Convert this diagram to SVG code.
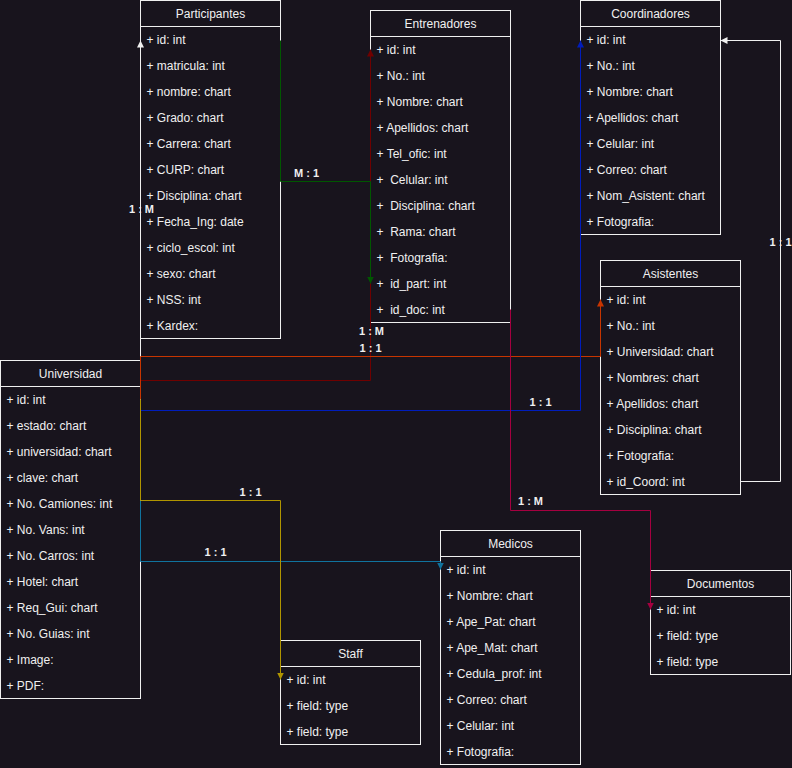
<svg xmlns="http://www.w3.org/2000/svg" width="792" height="768" viewBox="0 0 792 768">
<style>
.bg{fill:#18141d}
.box{fill:#18141d;stroke:#f0f0f0;stroke-width:1}
.sep{stroke:#f0f0f0;stroke-width:1}
.title{font-family:"Liberation Sans",Arial,sans-serif;font-size:12px;fill:#f0f0f0;text-anchor:middle}
.row{font-family:"Liberation Sans",Arial,sans-serif;font-size:12px;fill:#f0f0f0;white-space:pre}
.lbl{font-family:"Liberation Sans",Arial,sans-serif;font-size:11px;font-weight:bold;fill:#f0f0f0;text-anchor:middle}
.edge{fill:none;stroke-width:1}
</style>
<defs>
<marker id="aW" markerWidth="7" markerHeight="7" refX="7" refY="3.5" orient="auto" markerUnits="userSpaceOnUse"><path d="M0,0 L7,3.5 L0,7 z" fill="#f0f0f0"/></marker>
<marker id="aR" markerWidth="7" markerHeight="7" refX="7" refY="3.5" orient="auto" markerUnits="userSpaceOnUse"><path d="M0,0 L7,3.5 L0,7 z" fill="#6F0000"/></marker>
<marker id="aO" markerWidth="7" markerHeight="7" refX="7" refY="3.5" orient="auto" markerUnits="userSpaceOnUse"><path d="M0,0 L7,3.5 L0,7 z" fill="#C73500"/></marker>
<marker id="aB" markerWidth="7" markerHeight="7" refX="7" refY="3.5" orient="auto" markerUnits="userSpaceOnUse"><path d="M0,0 L7,3.5 L0,7 z" fill="#001DBC"/></marker>
<marker id="aG" markerWidth="7" markerHeight="7" refX="7" refY="3.5" orient="auto" markerUnits="userSpaceOnUse"><path d="M0,0 L7,3.5 L0,7 z" fill="#005700"/></marker>
<marker id="aY" markerWidth="7" markerHeight="7" refX="7" refY="3.5" orient="auto" markerUnits="userSpaceOnUse"><path d="M0,0 L7,3.5 L0,7 z" fill="#B09500"/></marker>
<marker id="aT" markerWidth="7" markerHeight="7" refX="7" refY="3.5" orient="auto" markerUnits="userSpaceOnUse"><path d="M0,0 L7,3.5 L0,7 z" fill="#10739E"/></marker>
<marker id="aC" markerWidth="7" markerHeight="7" refX="7" refY="3.5" orient="auto" markerUnits="userSpaceOnUse"><path d="M0,0 L7,3.5 L0,7 z" fill="#A50040"/></marker>
</defs>
<rect class="bg" x="0" y="0" width="792" height="768"/>
<g transform="translate(0.5,0.5)">
<g id="participantes">
<rect class="box" x="140" y="0" width="140" height="338"/>
<line class="sep" x1="140" y1="26" x2="280" y2="26"/>
<text class="title" x="210" y="17">Participantes</text>
<text class="row" x="146" y="43">+ id: int</text>
<text class="row" x="146" y="69">+ matricula: int</text>
<text class="row" x="146" y="95">+ nombre: chart</text>
<text class="row" x="146" y="121">+ Grado: chart</text>
<text class="row" x="146" y="147">+ Carrera: chart</text>
<text class="row" x="146" y="173">+ CURP: chart</text>
<text class="row" x="146" y="199">+ Disciplina: chart</text>
<text class="row" x="146" y="225">+ Fecha_Ing: date</text>
<text class="row" x="146" y="251">+ ciclo_escol: int</text>
<text class="row" x="146" y="277">+ sexo: chart</text>
<text class="row" x="146" y="303">+ NSS: int</text>
<text class="row" x="146" y="329">+ Kardex:</text>
</g>
<g id="entrenadores">
<rect class="box" x="370" y="10" width="140" height="312"/>
<line class="sep" x1="370" y1="36" x2="510" y2="36"/>
<text class="title" x="440" y="27">Entrenadores</text>
<text class="row" x="376" y="53">+ id: int</text>
<text class="row" x="376" y="79">+ No.: int</text>
<text class="row" x="376" y="105">+ Nombre: chart</text>
<text class="row" x="376" y="131">+ Apellidos: chart</text>
<text class="row" x="376" y="157">+ Tel_ofic: int</text>
<text class="row" x="376" y="183" xml:space="preserve">+  Celular: int</text>
<text class="row" x="376" y="209" xml:space="preserve">+  Disciplina: chart</text>
<text class="row" x="376" y="235" xml:space="preserve">+  Rama: chart</text>
<text class="row" x="376" y="261" xml:space="preserve">+  Fotografia:</text>
<text class="row" x="376" y="287" xml:space="preserve">+  id_part: int</text>
<text class="row" x="376" y="313" xml:space="preserve">+  id_doc: int</text>
</g>
<g id="coordinadores">
<rect class="box" x="580" y="0" width="140" height="234"/>
<line class="sep" x1="580" y1="26" x2="720" y2="26"/>
<text class="title" x="650" y="17">Coordinadores</text>
<text class="row" x="586" y="43">+ id: int</text>
<text class="row" x="586" y="69">+ No.: int</text>
<text class="row" x="586" y="95">+ Nombre: chart</text>
<text class="row" x="586" y="121">+ Apellidos: chart</text>
<text class="row" x="586" y="147">+ Celular: int</text>
<text class="row" x="586" y="173">+ Correo: chart</text>
<text class="row" x="586" y="199">+ Nom_Asistent: chart</text>
<text class="row" x="586" y="225">+ Fotografia:</text>
</g>
<g id="asistentes">
<rect class="box" x="600" y="260" width="140" height="234"/>
<line class="sep" x1="600" y1="286" x2="740" y2="286"/>
<text class="title" x="670" y="277">Asistentes</text>
<text class="row" x="606" y="303">+ id: int</text>
<text class="row" x="606" y="329">+ No.: int</text>
<text class="row" x="606" y="355">+ Universidad: chart</text>
<text class="row" x="606" y="381">+ Nombres: chart</text>
<text class="row" x="606" y="407">+ Apellidos: chart</text>
<text class="row" x="606" y="433">+ Disciplina: chart</text>
<text class="row" x="606" y="459">+ Fotografia:</text>
<text class="row" x="606" y="485">+ id_Coord: int</text>
</g>
<g id="universidad">
<rect class="box" x="0" y="360" width="140" height="338"/>
<line class="sep" x1="0" y1="386" x2="140" y2="386"/>
<text class="title" x="70" y="377">Universidad</text>
<text class="row" x="6" y="403">+ id: int</text>
<text class="row" x="6" y="429">+ estado: chart</text>
<text class="row" x="6" y="455">+ universidad: chart</text>
<text class="row" x="6" y="481">+ clave: chart</text>
<text class="row" x="6" y="507">+ No. Camiones: int</text>
<text class="row" x="6" y="533">+ No. Vans: int</text>
<text class="row" x="6" y="559">+ No. Carros: int</text>
<text class="row" x="6" y="585">+ Hotel: chart</text>
<text class="row" x="6" y="611">+ Req_Gui: chart</text>
<text class="row" x="6" y="637">+ No. Guias: int</text>
<text class="row" x="6" y="663">+ Image:</text>
<text class="row" x="6" y="689">+ PDF:</text>
</g>
<g id="staff">
<rect class="box" x="280" y="640" width="140" height="104"/>
<line class="sep" x1="280" y1="666" x2="420" y2="666"/>
<text class="title" x="350" y="657">Staff</text>
<text class="row" x="286" y="683">+ id: int</text>
<text class="row" x="286" y="709">+ field: type</text>
<text class="row" x="286" y="735">+ field: type</text>
</g>
<g id="medicos">
<rect class="box" x="440" y="530" width="140" height="234"/>
<line class="sep" x1="440" y1="556" x2="580" y2="556"/>
<text class="title" x="510" y="547">Medicos</text>
<text class="row" x="446" y="573">+ id: int</text>
<text class="row" x="446" y="599">+ Nombre: chart</text>
<text class="row" x="446" y="625">+ Ape_Pat: chart</text>
<text class="row" x="446" y="651">+ Ape_Mat: chart</text>
<text class="row" x="446" y="677">+ Cedula_prof: int</text>
<text class="row" x="446" y="703">+ Correo: chart</text>
<text class="row" x="446" y="729">+ Celular: int</text>
<text class="row" x="446" y="755">+ Fotografia:</text>
</g>
<g id="documentos">
<rect class="box" x="650" y="570" width="140" height="104"/>
<line class="sep" x1="650" y1="596" x2="790" y2="596"/>
<text class="title" x="720" y="587">Documentos</text>
<text class="row" x="656" y="613">+ id: int</text>
<text class="row" x="656" y="639">+ field: type</text>
<text class="row" x="656" y="665">+ field: type</text>
</g>
<g id="connectors">
<path class="edge" d="M140,360 V40" stroke="#f0f0f0" marker-end="url(#aW)"/>
<path class="edge" d="M140,380 H370 V49" stroke="#6F0000" marker-end="url(#aR)"/>
<path class="edge" d="M140,399 V356 H600 V299" stroke="#C73500" marker-end="url(#aO)"/>
<path class="edge" d="M140,410 H580 V40" stroke="#001DBC" marker-end="url(#aB)"/>
<path class="edge" d="M280,40 V181 H370 V283" stroke="#005700" marker-end="url(#aG)"/>
<path class="edge" d="M140,500 V561 H440 V569" stroke="#10739E" marker-end="url(#aT)"/>
<path class="edge" d="M140,399 V500 H280 V679" stroke="#B09500" marker-end="url(#aY)"/>
<path class="edge" d="M510,309 V510 H650 V609" stroke="#A50040" marker-end="url(#aC)"/>
<path class="edge" d="M740,481 H780 V40 H720" stroke="#f0f0f0" marker-end="url(#aW)"/>
<text class="lbl" x="306" y="176">M : 1</text>
<text class="lbl" x="141" y="212">1 : M</text>
<text class="lbl" x="371" y="334">1 : M</text>
<text class="lbl" x="370" y="351">1 : 1</text>
<text class="lbl" x="540" y="405">1 : 1</text>
<text class="lbl" x="530" y="504">1 : M</text>
<text class="lbl" x="250" y="495">1 : 1</text>
<text class="lbl" x="215" y="555">1 : 1</text>
<text class="lbl" x="780" y="245">1 : 1</text>
</g>
</g>
</svg>
